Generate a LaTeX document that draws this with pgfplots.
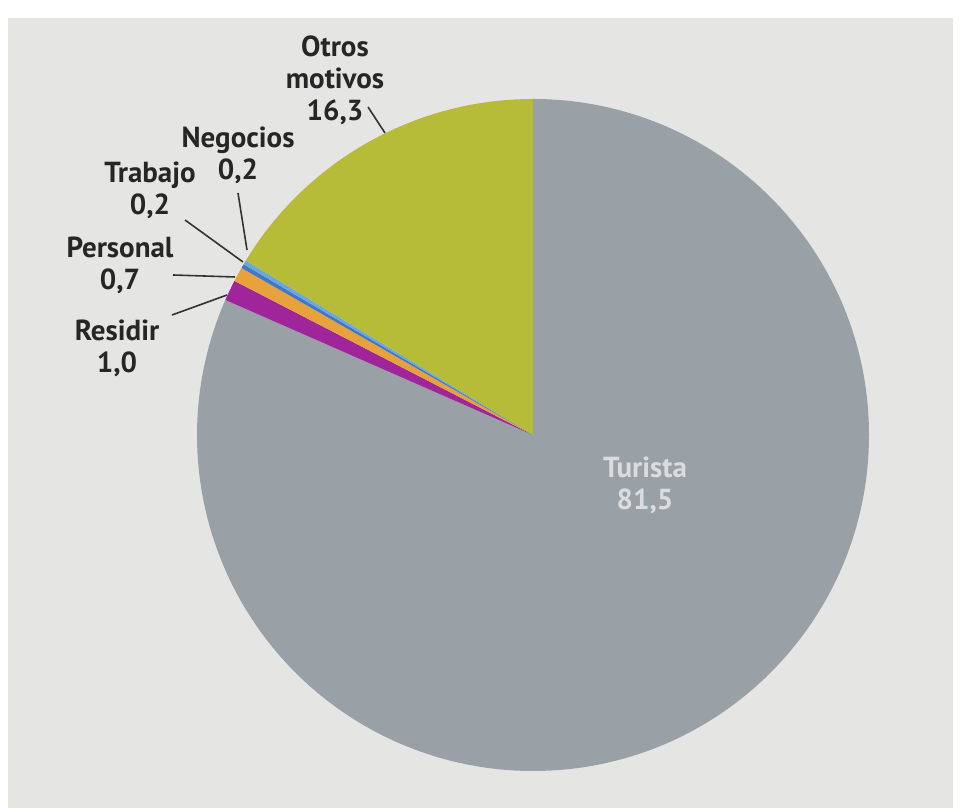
\documentclass[border=0pt]{standalone}
\usepackage{fontspec}
\setmainfont{PT Sans}
\usepackage{pgfplots}
\usepackage{pgfplotstable}
\pgfplotsset{compat=1.18}

\definecolor{bgpaper}{HTML}{E5E5E3}
\definecolor{cturista}{HTML}{99A1A7}
\definecolor{cresidir}{HTML}{A0259A}
\definecolor{cpersonal}{HTML}{E8A23C}
\definecolor{ctrabajo}{HTML}{3F78C8}
\definecolor{cnegocios}{HTML}{6AA6E0}
\definecolor{cotros}{HTML}{B7BC38}
\definecolor{labelgray}{HTML}{DADCDD}

% motivo del viaje, en %
\pgfplotstableread[col sep=comma]{
label,value,color
Turista,81.5,cturista
Residir,1.0,cresidir
Personal,0.7,cpersonal
Trabajo,0.2,ctrabajo
Negocios,0.2,cnegocios
Otros motivos,16.3,cotros
}\pietable

\begin{document}
\begin{tikzpicture}
\begin{axis}[
  scale only axis,
  width=480pt, height=404pt,
  xmin=0, xmax=960, ymin=0, ymax=808,
  enlargelimits=false,
  hide axis,
  clip=false,
]
% fondo del papel
\fill[white] (axis cs:0,0) rectangle (axis cs:960,808);
\fill[bgpaper] (axis cs:8,0) rectangle (axis cs:953,790);

% sectores: desde las 12, sentido horario
\pgfplotstablegetrowsof{\pietable}
\pgfmathtruncatemacro\lastrow{\pgfplotsretval-1}
\def\angA{90}
\pgfplotsforeachungrouped \i in {0,...,\lastrow}{%
  \pgfplotstablegetelem{\i}{value}\of\pietable \let\pieval\pgfplotsretval
  \pgfplotstablegetelem{\i}{color}\of\pietable \let\piecol\pgfplotsretval
  \pgfmathsetmacro\angB{\angA-\pieval*(360/99.9)}
  \pgfmathsetmacro\sx{533+336*cos(\angA)}
  \pgfmathsetmacro\sy{373+336*sin(\angA)}
  \edef\temp{\noexpand\fill[\piecol] (axis cs:533,373) -- (axis cs:\sx,\sy)
    arc[start angle=\angA, end angle=\angB, radius=168pt] -- cycle;}%
  \temp
  \global\let\angA\angB
}

% etiquetas
\tikzset{lbl/.style={align=center, font=\fontsize{14.5}{16}\selectfont\bfseries, text=black!85, inner sep=0pt}}
\node[lbl] at (axis cs:335,728) {Otros\\motivos\\16,3};
\node[lbl] at (axis cs:238,653) {Negocios\\0,2};
\node[lbl] at (axis cs:150,618) {Trabajo\\0,2};
\node[lbl] at (axis cs:120,543) {Personal\\0,7};
\node[lbl] at (axis cs:117,460) {Residir\\1,0};
\node[lbl, text=labelgray] at (axis cs:645,323) {Turista\\81,5};

\draw[black!80, line width=0.8pt] (axis cs:368,701) -- (axis cs:385,675);
\draw[black!80, line width=0.8pt] (axis cs:238,615) -- (axis cs:247,558);
\draw[black!80, line width=0.8pt] (axis cs:185,588) -- (axis cs:243,546);
\draw[black!80, line width=0.8pt] (axis cs:173,533) -- (axis cs:235,531);
\draw[black!80, line width=0.8pt] (axis cs:172,493) -- (axis cs:227,513);
\end{axis}
\end{tikzpicture}
\end{document}
